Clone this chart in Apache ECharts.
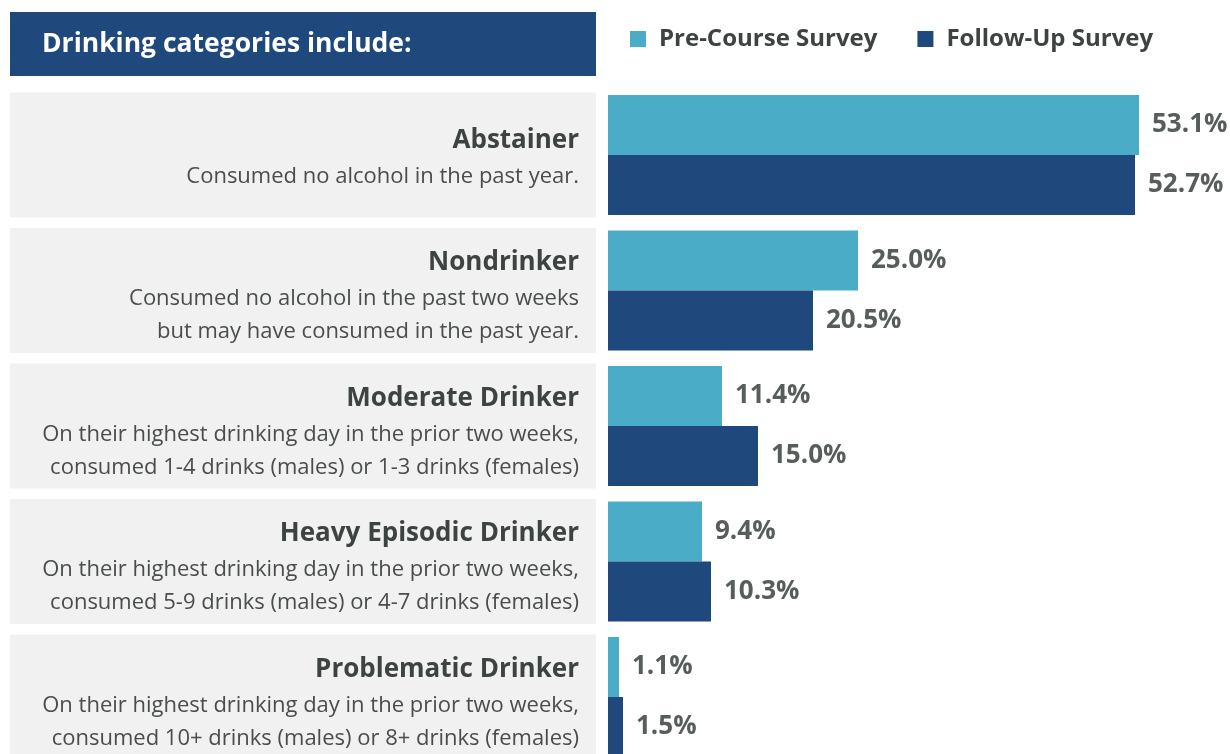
<!DOCTYPE html>
<html>
<head>
<meta charset="utf-8">
<script src="https://cdn.jsdelivr.net/npm/echarts@6/dist/echarts.min.js"></script>
<style>
  html, body { margin: 0; padding: 0; background: #fff; }
  #chart { width: 1230px; height: 754px; }
</style>
</head>
<body>
<div id="chart"></div>
<script>
const categories = ['Abstainer', 'Nondrinker', 'Moderate Drinker', 'Heavy Episodic Drinker', 'Problematic Drinker'];
const descriptions = [
  ['Consumed no alcohol in the past year.'],
  ['Consumed no alcohol in the past two weeks', 'but may have consumed in the past year.'],
  ['On their highest drinking day in the prior two weeks,', 'consumed 1-4 drinks (males) or 1-3 drinks (females)'],
  ['On their highest drinking day in the prior two weeks,', 'consumed 5-9 drinks (males) or 4-7 drinks (females)'],
  ['On their highest drinking day in the prior two weeks,', 'consumed 10+ drinks (males) or 8+ drinks (females)']
];
const preCourse = [53.1, 25.0, 11.4, 9.4, 1.1];
const followUp = [52.7, 20.5, 15.0, 10.3, 1.5];

const LIGHT = '#4aacc6';
const DARK = '#1f497d';
const FONT = '"Open Sans", "Noto Sans", sans-serif';

// label box: fixed height, text pushed down slightly
const BOX_H = 125, TITLE_LH = 39, DESC_LH = 33;

const yData = categories.map((c, i) => {
  const lines = descriptions[i].length;
  const content = TITLE_LH + DESC_LH * lines;
  const top = (BOX_H - content) / 2 + (lines > 1 ? 5.5 : 2.5);
  return {
    value: c,
    textStyle: { padding: [top, 17, BOX_H - content - top, 0] }
  };
});

const initChart = () => {
  const chart = echarts.init(document.getElementById('chart'));
  const labelStyle = {
    show: true,
    position: 'right',
    distance: 13,
    formatter: p => p.value.toFixed(1) + '%',
    fontFamily: FONT,
    fontWeight: 'bold',
    fontSize: 26,
    color: '#575d5c'
  };
  chart.setOption({
    animation: false,
    textStyle: { fontFamily: FONT },
    graphic: [
      { type: 'rect', shape: { x: 10, y: 12, width: 586, height: 64 }, style: { fill: DARK } },
      { type: 'text', x: 42, y: 44, style: { text: 'Drinking categories include:', fill: '#fff',
        font: 'bold 26.5px ' + FONT, verticalAlign: 'middle' } }
    ],
    legend: {
      left: 625, top: 22,
      icon: 'rect', itemWidth: 16, itemHeight: 16, itemGap: 40,
      textStyle: { fontFamily: FONT, fontWeight: 'bold', fontSize: 24, color: '#3c4341', padding: [0, 0, 0, 8] },
      data: ['Pre-Course Survey', 'Follow-Up Survey']
    },
    grid: { left: 608, top: 87.25, width: 620, height: 677.5, outerBoundsMode: 'none' },
    xAxis: { type: 'value', min: 0, max: 62, show: false },
    yAxis: {
      type: 'category', inverse: true, data: yData,
      axisLine: { show: false }, axisTick: { show: false },
      axisLabel: {
        interval: 0,
        margin: 12,
        width: 569,
        align: 'right',
        backgroundColor: '#f1f1f1',
        formatter: (v, i) => '{t|' + v + '}\n' + descriptions[i].map(d => '{d|' + d + '}').join('\n'),
        rich: {
          t: { fontFamily: FONT, fontWeight: 'bold', fontSize: 26, lineHeight: TITLE_LH, color: '#3c4341', align: 'right' },
          d: { fontFamily: FONT, fontSize: 22, lineHeight: DESC_LH, color: '#4a4d4d', align: 'right' }
        }
      }
    },
    series: [
      { name: 'Pre-Course Survey', type: 'bar', data: preCourse, barWidth: 60, barGap: '0%',
        itemStyle: { color: LIGHT }, label: labelStyle },
      { name: 'Follow-Up Survey', type: 'bar', data: followUp, barWidth: 60, barGap: '0%',
        itemStyle: { color: DARK }, label: labelStyle }
    ]
  });
};

window.addEventListener('load', () => {
  initChart();
});
</script>
</body>
</html>
